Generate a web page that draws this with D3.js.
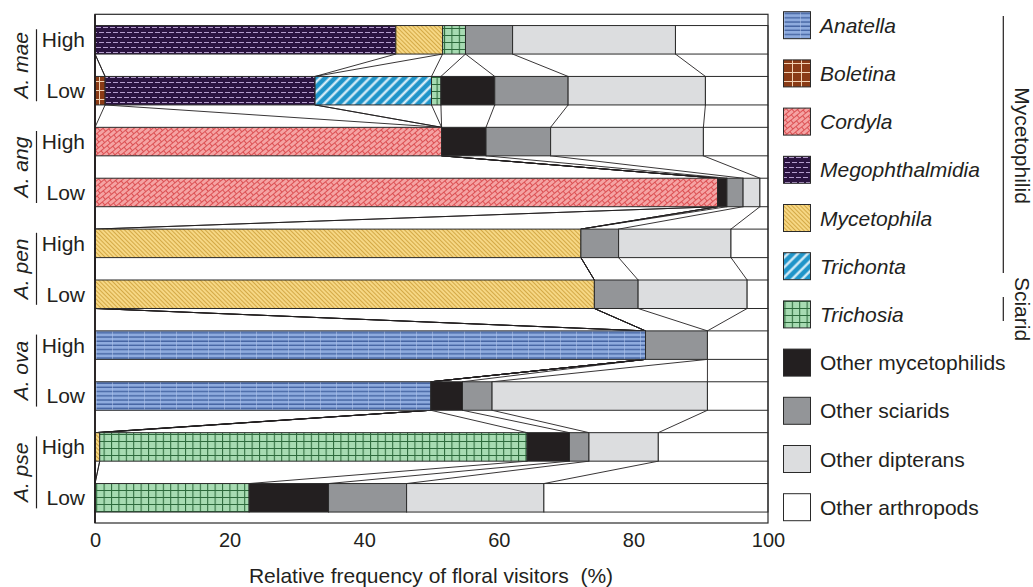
<!DOCTYPE html>
<html><head><meta charset="utf-8">
<script src="https://cdn.jsdelivr.net/npm/d3@7"></script>
<style>
html,body{margin:0;padding:0;background:#fff;}
svg{display:block;font-family:"Liberation Sans",Arial,Helvetica,sans-serif;}
</style></head>
<body><svg id="chart" width="1033" height="587"></svg>
<script>
// ---- data ----
const species = ["A. mae", "A. ang", "A. pen", "A. ova", "A. pse"];
const levels = ["High", "Low"];
const categories = ["Anatella","Boletina","Cordyla","Megophthalmidia","Mycetophila","Trichonta","Trichosia",
  "Other mycetophilids","Other sciarids","Other dipterans","Other arthropods"];
const italicCats = ["Anatella","Boletina","Cordyla","Megophthalmidia","Mycetophila","Trichonta","Trichosia"];
// row order: mae H, mae L, ang H, ang L, pen H, pen L, ova H, ova L, pse H, pse L
const anatella        = [0, 0, 0, 0, 0, 0, 81.8, 49.9, 0, 0];
const boletina        = [0, 1.5, 0, 0, 0, 0, 0, 0, 0, 0];
const cordyla         = [0, 0, 51.5, 92.5, 0, 0, 0, 0, 0, 0];
const megophthalmidia = [44.7, 31.2, 0, 0, 0, 0, 0, 0, 0, 0];
const mycetophila     = [6.95, 0, 0, 0, 72.2, 74.2, 0, 0, 0.7, 0];
const trichonta       = [0, 17.3, 0, 0, 0, 0, 0, 0, 0, 0];
const trichosia       = [3.4, 1.4, 0, 0, 0, 0, 0, 0, 63.5, 22.9];
const otherMyceto     = [0, 8.0, 6.6, 1.4, 0, 0, 0, 4.7, 6.3, 11.8];
const otherSciarids   = [7.0, 10.9, 9.6, 2.4, 5.6, 6.5, 9.2, 4.4, 2.9, 11.6];
const otherDipterans  = [24.2, 20.4, 22.7, 2.5, 16.7, 16.2, 0, 32.0, 10.3, 20.4];
const otherArthropods = [13.75, 9.3, 9.6, 1.2, 5.5, 3.1, 9.0, 9.0, 16.3, 33.3];
const xTicks = [0, 20, 40, 60, 80, 100];
const groups = [{name:"Mycetophilid", from:0, to:5}, {name:"Sciarid", from:6, to:6}];

const seriesVals = [anatella,boletina,cordyla,megophthalmidia,mycetophila,trichonta,trichosia,
  otherMyceto,otherSciarids,otherDipterans,otherArthropods];

const rows = [];
species.forEach(s => levels.forEach(l => rows.push({id: s + "|" + l, sp: s, lev: l})));
const table = rows.map((r, i) => {
  const o = {id: r.id};
  categories.forEach((c, k) => o[c] = seriesVals[k][i]);
  return o;
});

// ---- layout ----
const svg = d3.select("#chart");
const ink = "#231f20";
const x = d3.scaleLinear().domain([0, 100]).range([95, 768]);
const y = d3.scalePoint().domain(rows.map(r => r.id)).range([39.8, 497.8]);
const barH = 28.5;
const frameTop = 14.3, frameBottom = 523;

// ---- patterns ----
const defs = svg.append("defs");
function pat(id, w, h, bg, tf) {
  const p = defs.append("pattern").attr("id", id).attr("patternUnits", "userSpaceOnUse")
    .attr("width", w).attr("height", h);
  if (tf) p.attr("patternTransform", tf);
  p.append("rect").attr("width", w).attr("height", h).attr("fill", bg);
  return p;
}
// Anatella: blue, horizontal dark stripes
let p = pat("p-anatella", 16, 4.2, "#8eabde");
p.append("line").attr("x1", 0).attr("x2", 16).attr("y1", 1).attr("y2", 1).attr("stroke", "#40609f").attr("stroke-width", 1.3);
p.append("line").attr("x1", 0.3).attr("x2", 0.3).attr("y1", 0).attr("y2", 4.2).attr("stroke", "#b5c8ec").attr("stroke-width", 0.6);
// Boletina: brown with light grid
p = pat("p-boletina", 9, 9, "#8a3b16");
p.append("path").attr("d", "M0,0.5H9M0.5,0V9").attr("stroke", "#f2d2b4").attr("stroke-width", 1);
// Cordyla: pink with red diagonal bricks
p = pat("p-cordyla", 8, 8, "#f5a3a3", "rotate(-40)");
p.append("path").attr("d", "M0,0.5H8M0,4.5H8M0.5,0.5V4.5M4.5,4.5V8").attr("stroke", "#d9474b").attr("stroke-width", 0.9).attr("fill", "none");
// Megophthalmidia: dark purple with light dashes
p = pat("p-megoph", 14, 10, "#2b1441");
p.append("path").attr("d", "M1,2.5H6M8,2.5H13M-2,7.5H3M5,7.5H10M12,7.5H17").attr("stroke", "#b49ccc").attr("stroke-width", 1.1);
// Mycetophila: yellow with thin diagonal lines
p = pat("p-myceto", 3, 3, "#f6d784", "rotate(-45)");
p.append("line").attr("x1", 0.5).attr("x2", 0.5).attr("y1", 0).attr("y2", 3).attr("stroke", "#cc9d36").attr("stroke-width", 0.8);
// Trichonta: blue with white diagonal stripes
p = pat("p-trichonta", 7, 7, "#1f94c9", "rotate(45)");
p.append("line").attr("x1", 1.5).attr("x2", 1.5).attr("y1", 0).attr("y2", 7).attr("stroke", "#e6f4fb").attr("stroke-width", 2.2);
// Trichosia: green with dark green grid
p = pat("p-trichosia", 7.4, 7, "#a7dbb2");
p.append("path").attr("d", "M0,0.5H7.4M0.5,0V7").attr("stroke", "#2d6a3c").attr("stroke-width", 1.1);

const fills = {
  "Anatella": "url(#p-anatella)", "Boletina": "url(#p-boletina)", "Cordyla": "url(#p-cordyla)",
  "Megophthalmidia": "url(#p-megoph)", "Mycetophila": "url(#p-myceto)", "Trichonta": "url(#p-trichonta)",
  "Trichosia": "url(#p-trichosia)", "Other mycetophilids": "#231f20", "Other sciarids": "#939598",
  "Other dipterans": "#dcdddf", "Other arthropods": "#ffffff"
};

// ---- stack ----
const stack = d3.stack().keys(categories)(table);

// ---- connectors ----
const conn = svg.append("g").attr("stroke", ink).attr("stroke-width", 0.9).attr("fill", "none");
for (let i = 0; i < rows.length - 1; i++) {
  stack.forEach(s => {
    conn.append("line")
      .attr("x1", x(s[i][1])).attr("y1", y(rows[i].id) + barH / 2)
      .attr("x2", x(s[i + 1][1])).attr("y2", y(rows[i + 1].id) - barH / 2);
  });
}

// ---- bars ----
const barG = svg.append("g");
stack.forEach(s => {
  barG.selectAll(null).data(s.filter(d => d[1] - d[0] > 0)).enter().append("rect")
    .attr("x", d => x(d[0])).attr("width", d => x(d[1]) - x(d[0]))
    .attr("y", d => y(d.data.id) - barH / 2).attr("height", barH)
    .attr("fill", fills[s.key]).attr("stroke", "#2a2a2a").attr("stroke-width", 1);
});

// ---- frame ----
svg.append("rect").attr("x", x(0)).attr("y", frameTop).attr("width", x(100) - x(0)).attr("height", frameBottom - frameTop)
  .attr("fill", "none").attr("stroke", "#2a2a2a").attr("stroke-width", 1.2);
svg.append("line").attr("x1", x(0)).attr("x2", x(0)).attr("y1", frameTop).attr("y2", frameBottom)
  .attr("stroke", ink).attr("stroke-width", 1.8);

// ---- axis ----
const axis = svg.append("g").attr("transform", `translate(0,${frameBottom})`)
  .call(d3.axisBottom(x).tickValues(xTicks).tickSize(0).tickPadding(10).tickFormat(d3.format("d")));
axis.select(".domain").remove();
axis.selectAll("text").attr("font-size", 20).attr("fill", ink).attr("font-family", "Liberation Sans, Arial, sans-serif");
svg.append("text").attr("x", 431).attr("y", 583).attr("text-anchor", "middle").attr("font-size", 21).attr("fill", ink)
  .attr("xml:space", "preserve").text("Relative frequency of floral visitors  (%)");

// ---- row labels ----
svg.append("g").selectAll("text").data(rows).enter().append("text")
  .attr("x", 85).attr("y", d => y(d.id) + 7.4).attr("text-anchor", "end")
  .attr("font-size", 21).attr("fill", ink).text(d => d.lev);
species.forEach(sp => {
  const cy = (y(sp + "|High") + y(sp + "|Low")) / 2;
  svg.append("text").attr("transform", `translate(28,${cy}) rotate(-90)`).attr("text-anchor", "middle")
    .attr("font-size", 21).attr("font-style", "italic").attr("fill", ink).text(sp);
  svg.append("line").attr("x1", 36.5).attr("x2", 36.5).attr("y1", cy - 36).attr("y2", cy + 36)
    .attr("stroke", ink).attr("stroke-width", 1.2);
});

// ---- legend ----
const lg = svg.append("g");
categories.forEach((c, i) => {
  const cy = 25.2 + i * 48.2;
  lg.append("rect").attr("x", 783.5).attr("y", cy - 13.5).attr("width", 27).attr("height", 27)
    .attr("fill", fills[c]).attr("stroke", "#2a2a2a").attr("stroke-width", 1);
  lg.append("text").attr("x", 820).attr("y", cy + 7.5).attr("font-size", 21).attr("fill", ink)
    .attr("font-style", italicCats.includes(c) ? "italic" : "normal").text(c);
});
const gLines = [{y1: 16, y2: 273, ty: 145.5}, {y1: 297, y2: 321, ty: 309}];
groups.forEach((g, i) => {
  lg.append("line").attr("x1", 1003.3).attr("x2", 1003.3).attr("y1", gLines[i].y1).attr("y2", gLines[i].y2)
    .attr("stroke", ink).attr("stroke-width", 1.2);
  lg.append("text").attr("transform", `translate(1015,${gLines[i].ty}) rotate(90)`).attr("text-anchor", "middle")
    .attr("font-size", 21).attr("fill", ink).text(g.name);
});
</script></body></html>
